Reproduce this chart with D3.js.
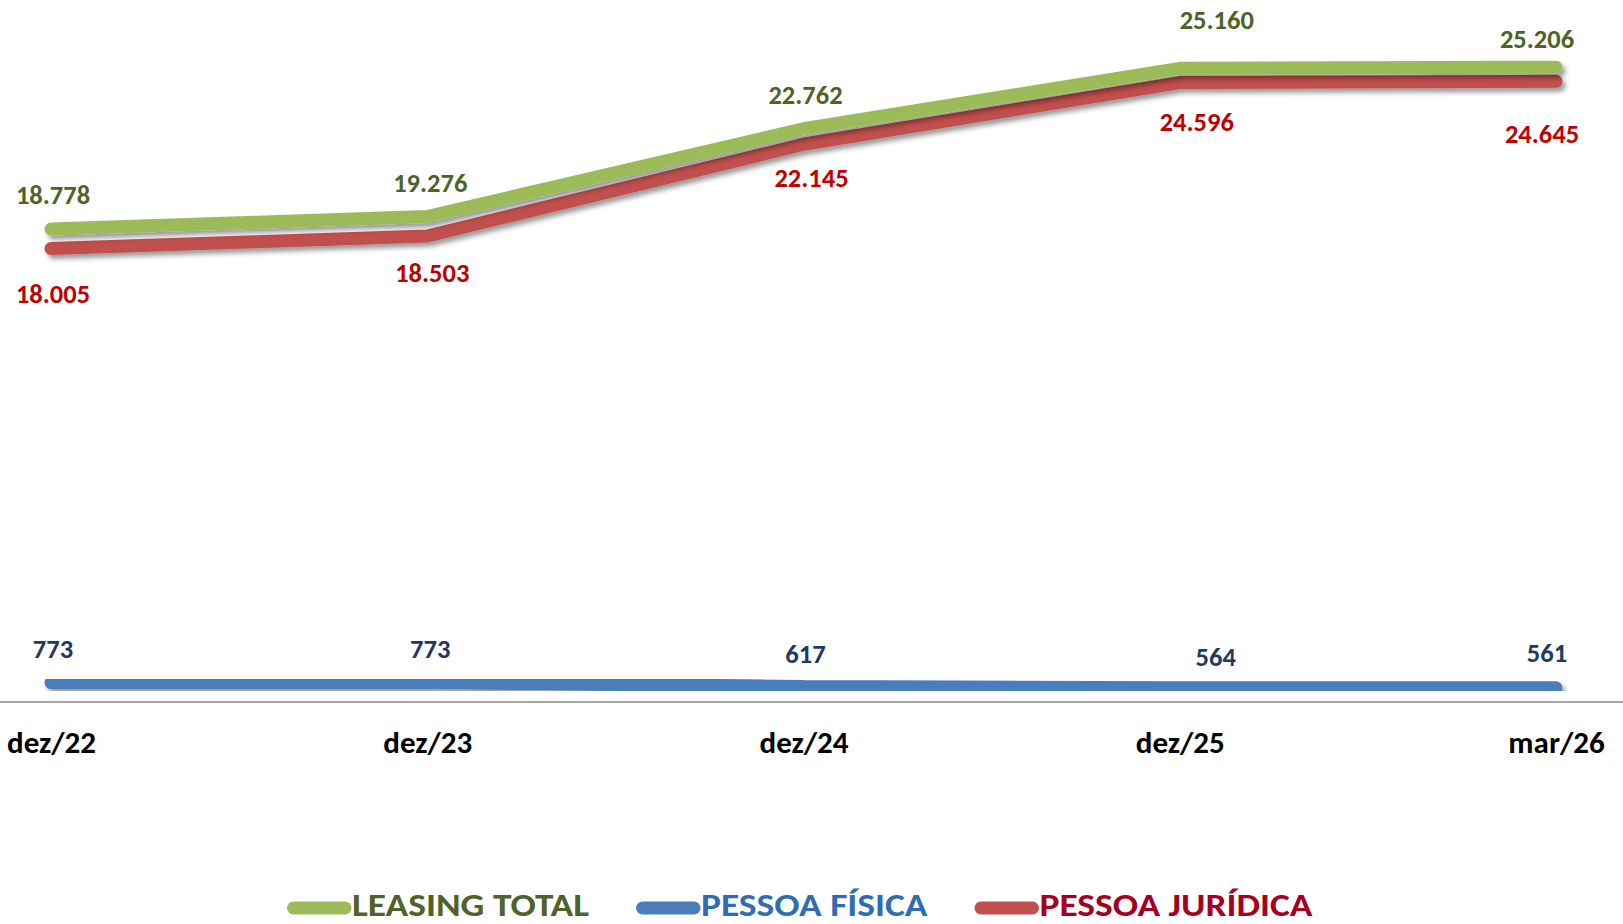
<!DOCTYPE html>
<html>
<head>
<meta charset="utf-8">
<script src="https://cdn.jsdelivr.net/npm/d3@7"></script>
<style>
  html, body { margin: 0; padding: 0; background: #fff; }
  svg { display: block; font-family: Carlito, Calibri, Lato, sans-serif; font-weight: bold; }
</style>
</head>
<body>
<svg id="chart"></svg>
<script>
// dados (mil unidades)
const categories = ['dez/22', 'dez/23', 'dez/24', 'dez/25', 'mar/26'];
const leasingTotal = [18778, 19276, 22762, 25160, 25206];
const pessoaFisica = [773, 773, 617, 564, 561];
const pessoaJuridica = [18005, 18503, 22145, 24596, 24645];
const seriesNames = ['LEASING TOTAL', 'PESSOA FÍSICA', 'PESSOA JURÍDICA'];

const width = 1623, height = 924;

const svg = d3.select('#chart')
    .attr('width', width)
    .attr('height', height);

// sombra das linhas
const defs = svg.append('defs');
defs.append('filter')
    .attr('id', 'shadow')
    .attr('x', '-5%').attr('y', '-50%')
    .attr('width', '110%').attr('height', '200%')
    .append('feDropShadow')
    .attr('dx', 3).attr('dy', 4)
    .attr('stdDeviation', 2.5)
    .attr('flood-color', '#000')
    .attr('flood-opacity', 0.4);

const x = d3.scalePoint()
    .domain(categories)
    .range([51, 1556]);

const y = d3.scaleLinear()
    .domain([0, 27000])
    .range([702, 22]);

const fmt = d3.formatLocale({decimal: ',', thousands: '.', grouping: [3], currency: ['R$', '']}).format(',d');

// eixo
svg.append('line')
    .attr('x1', 0).attr('x2', width)
    .attr('y1', y(0)).attr('y2', y(0))
    .attr('stroke', '#a6a6a6')
    .attr('stroke-width', 2);

const xAxis = svg.append('g')
    .attr('transform', `translate(0,${y(0)})`)
    .call(d3.axisBottom(x).tickSize(0).tickPadding(29));
xAxis.select('.domain').remove();
xAxis.selectAll('text')
    .attr('font-family', 'Carlito, Calibri, Lato, sans-serif')
    .attr('font-weight', 'bold')
    .attr('font-size', 31)
    .attr('fill', '#000');

// series: ordem de desenho (vermelho abaixo do verde)
const series = [
    {name: seriesNames[2], values: pessoaJuridica, line: '#c0504d', label: '#c00000', legend: '#a50021',
     nudge: [[2, 45], [5, 37], [8, 33], [17, 39], [-14, 52]]},
    {name: seriesNames[0], values: leasingTotal, line: '#9bbb59', label: '#4f6228', legend: '#4f6228',
     nudge: [[2, -34], [3, -34], [2, -34], [37, -49], [-19, -28]]},
    {name: seriesNames[1], values: pessoaFisica, line: '#4a7ebb', label: '#1f3864', legend: '#2e6db4',
     nudge: [[2, -34], [3, -34], [2, -33], [36, -31], [-9, -35]]}
];

const line = d3.line()
    .x((d, i) => x(categories[i]))
    .y(d => y(d));

series.forEach(s => {
    svg.append('path')
        .datum(s.values)
        .attr('d', line)
        .attr('fill', 'none')
        .attr('stroke', s.line)
        .attr('stroke-width', 13)
        .attr('stroke-linecap', 'round')
        .attr('stroke-linejoin', 'bevel')
        .attr('filter', 'url(#shadow)');
});

series.forEach(s => {
    svg.append('g')
        .selectAll('text')
        .data(s.values)
        .join('text')
        .attr('x', (d, i) => x(categories[i]) + s.nudge[i][0])
        .attr('y', (d, i) => y(d) + s.nudge[i][1])
        .attr('dy', '0.35em')
        .attr('text-anchor', 'middle')
        .attr('font-size', 26.5)
        .attr('fill', s.label)
        .text(d => fmt(d));
});

// legenda
const legendOrder = [series[1], series[2], series[0]];
const legend = svg.append('g').attr('transform', 'translate(0,908)');
const stretch = 1.17;
let cx = 287;
legendOrder.forEach(s => {
    legend.append('line')
        .attr('x1', cx + 6.5).attr('x2', cx + 58)
        .attr('y1', 0).attr('y2', 0)
        .attr('stroke', s.line)
        .attr('stroke-width', 13)
        .attr('stroke-linecap', 'round');
    const t = legend.append('text')
        .attr('transform', `translate(${cx + 65},8) scale(${stretch},1)`)
        .attr('font-size', 32)
        .attr('fill', s.legend)
        .text(s.name);
    cx += 65 + t.node().getComputedTextLength() * stretch + 47;
});
</script>
</body>
</html>
